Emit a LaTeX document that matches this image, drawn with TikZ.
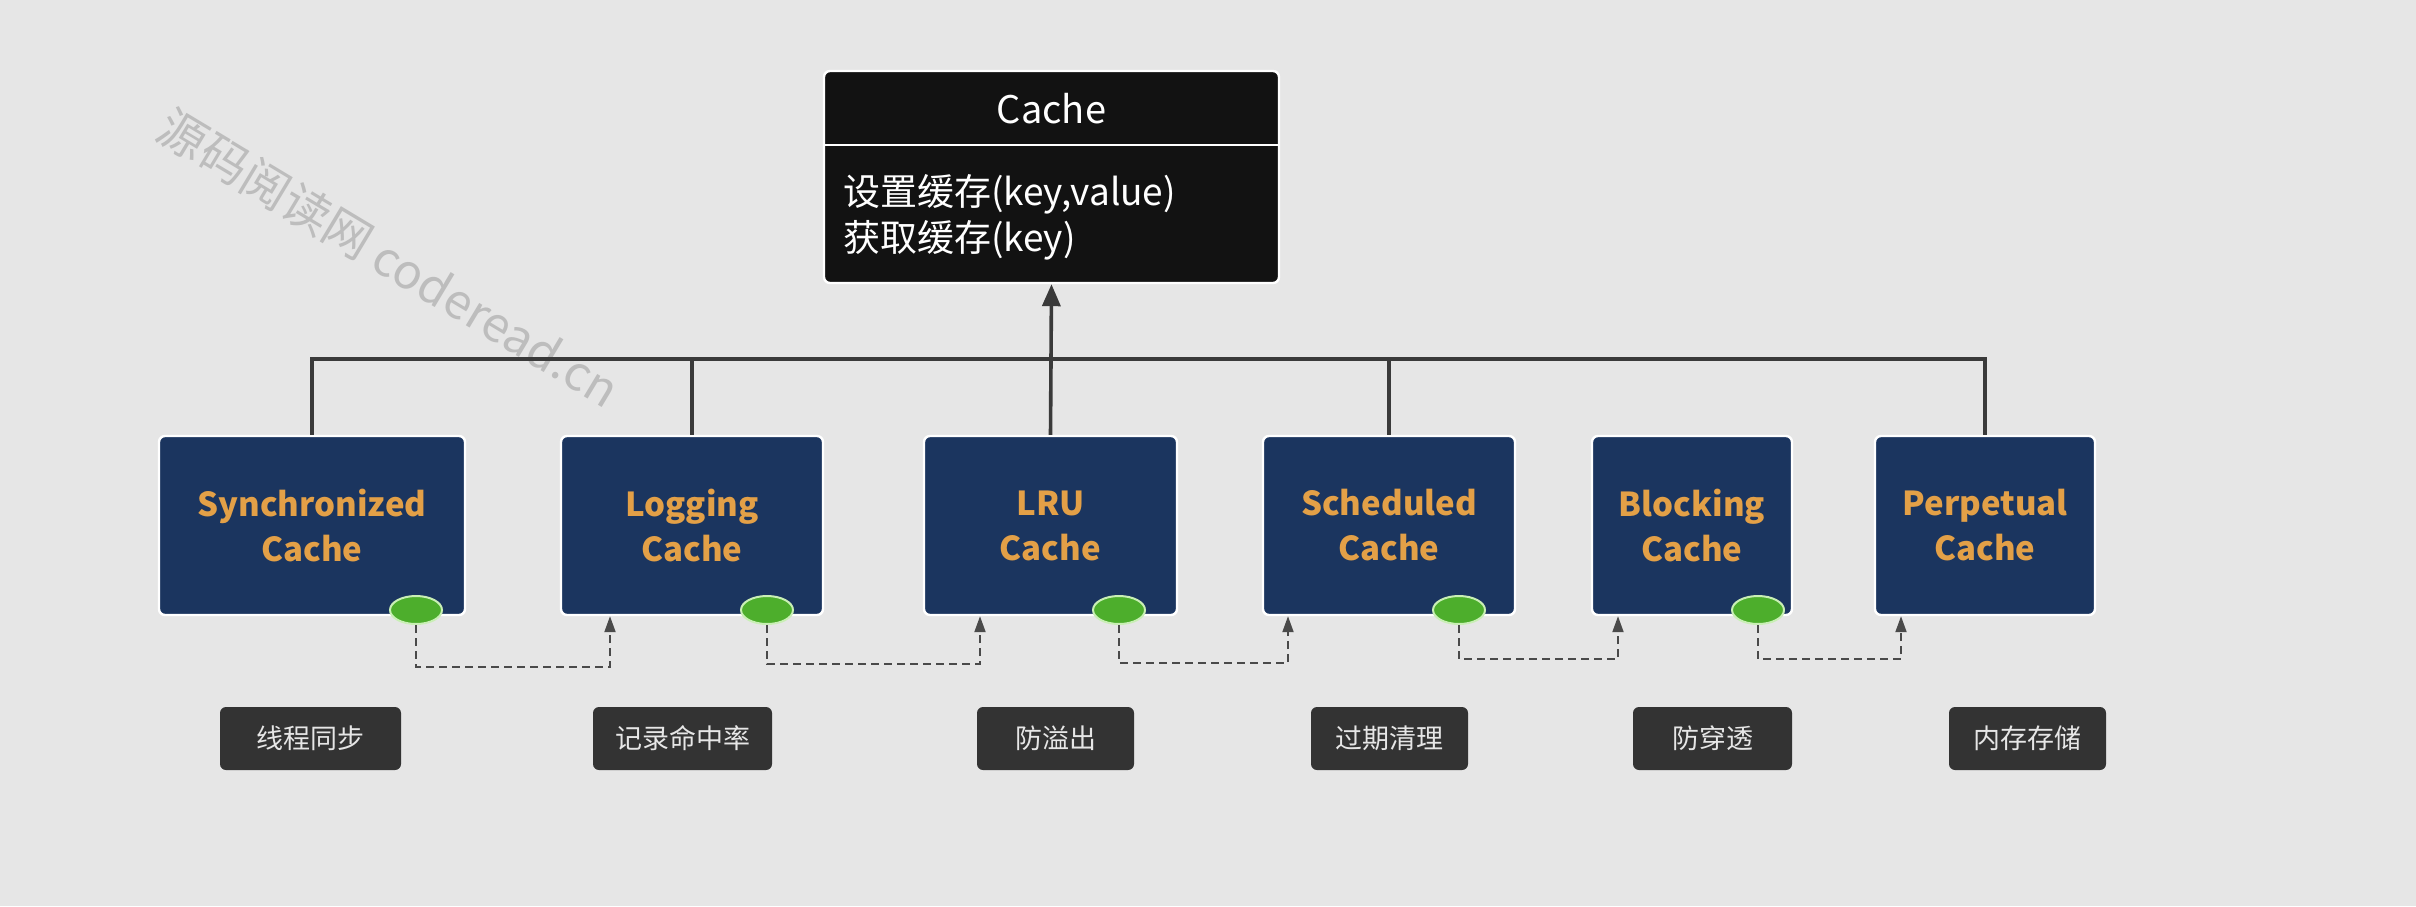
\documentclass[tikz,border=0pt]{standalone}
\usepackage{fontspec}
\setmainfont{Noto Sans CJK SC}
\usetikzlibrary{arrows.meta,shapes.geometric}
\definecolor{bg}{HTML}{E6E6E6}
\definecolor{cachebg}{HTML}{121212}
\definecolor{bluebg}{HTML}{1B355F}
\definecolor{orangetxt}{HTML}{E3A047}
\definecolor{greenfill}{HTML}{4DAE2C}
\definecolor{greenline}{HTML}{C9EFB5}
\definecolor{labelbg}{HTML}{333333}
\definecolor{labeltxt}{HTML}{E6E6E6}
\definecolor{linecol}{HTML}{3A3A3A}
\definecolor{dashcol}{HTML}{4A4A4A}
\definecolor{wmark}{HTML}{BDBDBD}
\tikzset{
  cachebox/.style={draw=white, line width=1.2pt, fill=cachebg, rounded corners=3pt,
    minimum width=227.5pt, minimum height=106pt, inner sep=0pt},
  implbox/.style={draw=white, line width=1.2pt, fill=bluebg, rounded corners=3pt,
    minimum height=89.5pt, inner sep=0pt, text=orangetxt, align=center,
    font=\fontsize{16.5}{22.5}\selectfont\bfseries},
  dot/.style={ellipse, draw=greenline, line width=1pt, fill=greenfill,
    minimum width=26pt, minimum height=14pt, inner sep=0pt},
  tagbox/.style={fill=labelbg, rounded corners=3pt, minimum height=31.5pt,
    inner sep=0pt, text=labeltxt, font=\fontsize{13.5}{15}\selectfont},
  bus/.style={draw=linecol, line width=1.8pt},
  inherit/.style={bus, -{Triangle[width=9pt,length=11pt]}},
  decor/.style={draw=dashcol, line width=1pt, dash pattern=on 4pt off 2.5pt,
    -{Triangle[width=5.5pt,length=8pt]}}
}
\begin{document}
\begin{tikzpicture}[x=0.5pt,y=-0.5pt]
\useasboundingbox[fill=bg] (0,0) rectangle (2416,906);
% watermark
\node[text=wmark, rotate=-31, font=\fontsize{24}{24}\selectfont] (wm) at (389,258) {源码阅读网 coderead.cn};
% Cache interface
\node[cachebox] (cache) at (1051.5,177) {};
\draw[white, line width=1.2pt] (cache.west |- 0,145) -- (cache.east |- 0,145);
\node[text=white, font=\fontsize{19}{22}\selectfont] (ctitle) at (1051.5,109) {Cache};
\node[text=white, anchor=west, align=left, font=\fontsize{18.5}{23}\selectfont] (cmeth) at (836,217) {设置缓存(key,value)\\获取缓存(key)};
% implementations
\node[implbox, minimum width=153pt] (b1) at (312,525.5) {Synchronized\\Cache};
\node[implbox, minimum width=131pt] (b2) at (692,525.5) {Logging\\Cache};
\node[implbox, minimum width=126.5pt] (b3) at (1050.5,525.5) {LRU\\Cache};
\node[implbox, minimum width=126pt] (b4) at (1389,525.5) {Scheduled\\Cache};
\node[implbox, minimum width=100pt] (b5) at (1692,525.5) {Blocking\\Cache};
\node[implbox, minimum width=110pt] (b6) at (1985,525.5) {Perpetual\\Cache};
% bus
\coordinate (busy) at (0,359);
\draw[bus] (b1.north) -- (b1.north |- busy) -- (b6.north |- busy) -- (b6.north);
\draw[bus] (b2.north) -- (b2.north |- busy);
\draw[bus] (b4.north) -- (b4.north |- busy);
\draw[inherit] (b3.north) -- (cache.south);
% green dots
\node[dot] (e1) at (416,610) {};
\node[dot] (e2) at (767,610) {};
\node[dot] (e3) at (1119,610) {};
\node[dot] (e4) at (1459,610) {};
\node[dot] (e5) at (1758,610) {};
% decorator chain
\coordinate (t1) at (610,667);
\coordinate (t2) at (980,664);
\coordinate (t3) at (1288,663);
\coordinate (t4) at (1618,659);
\coordinate (t5) at (1901,659);
\draw[decor] (e1.south) |- (t1) -- (t1 |- b2.south);
\draw[decor] (e2.south) |- (t2) -- (t2 |- b3.south);
\draw[decor] (e3.south) |- (t3) -- (t3 |- b4.south);
\draw[decor] (e4.south) |- (t4) -- (t4 |- b5.south);
\draw[decor] (e5.south) |- (t5) -- (t5 |- b6.south);
% labels
\node[tagbox, minimum width=90.5pt] (l1) at (310.5,738.5) {线程同步};
\node[tagbox, minimum width=89.5pt] (l2) at (682.5,738.5) {记录命中率};
\node[tagbox, minimum width=78.5pt] (l3) at (1055.5,738.5) {防溢出};
\node[tagbox, minimum width=78.5pt] (l4) at (1389.5,738.5) {过期清理};
\node[tagbox, minimum width=79.5pt] (l5) at (1712.5,738.5) {防穿透};
\node[tagbox, minimum width=78.5pt] (l6) at (2027.5,738.5) {内存存储};
\end{tikzpicture}
\end{document}
